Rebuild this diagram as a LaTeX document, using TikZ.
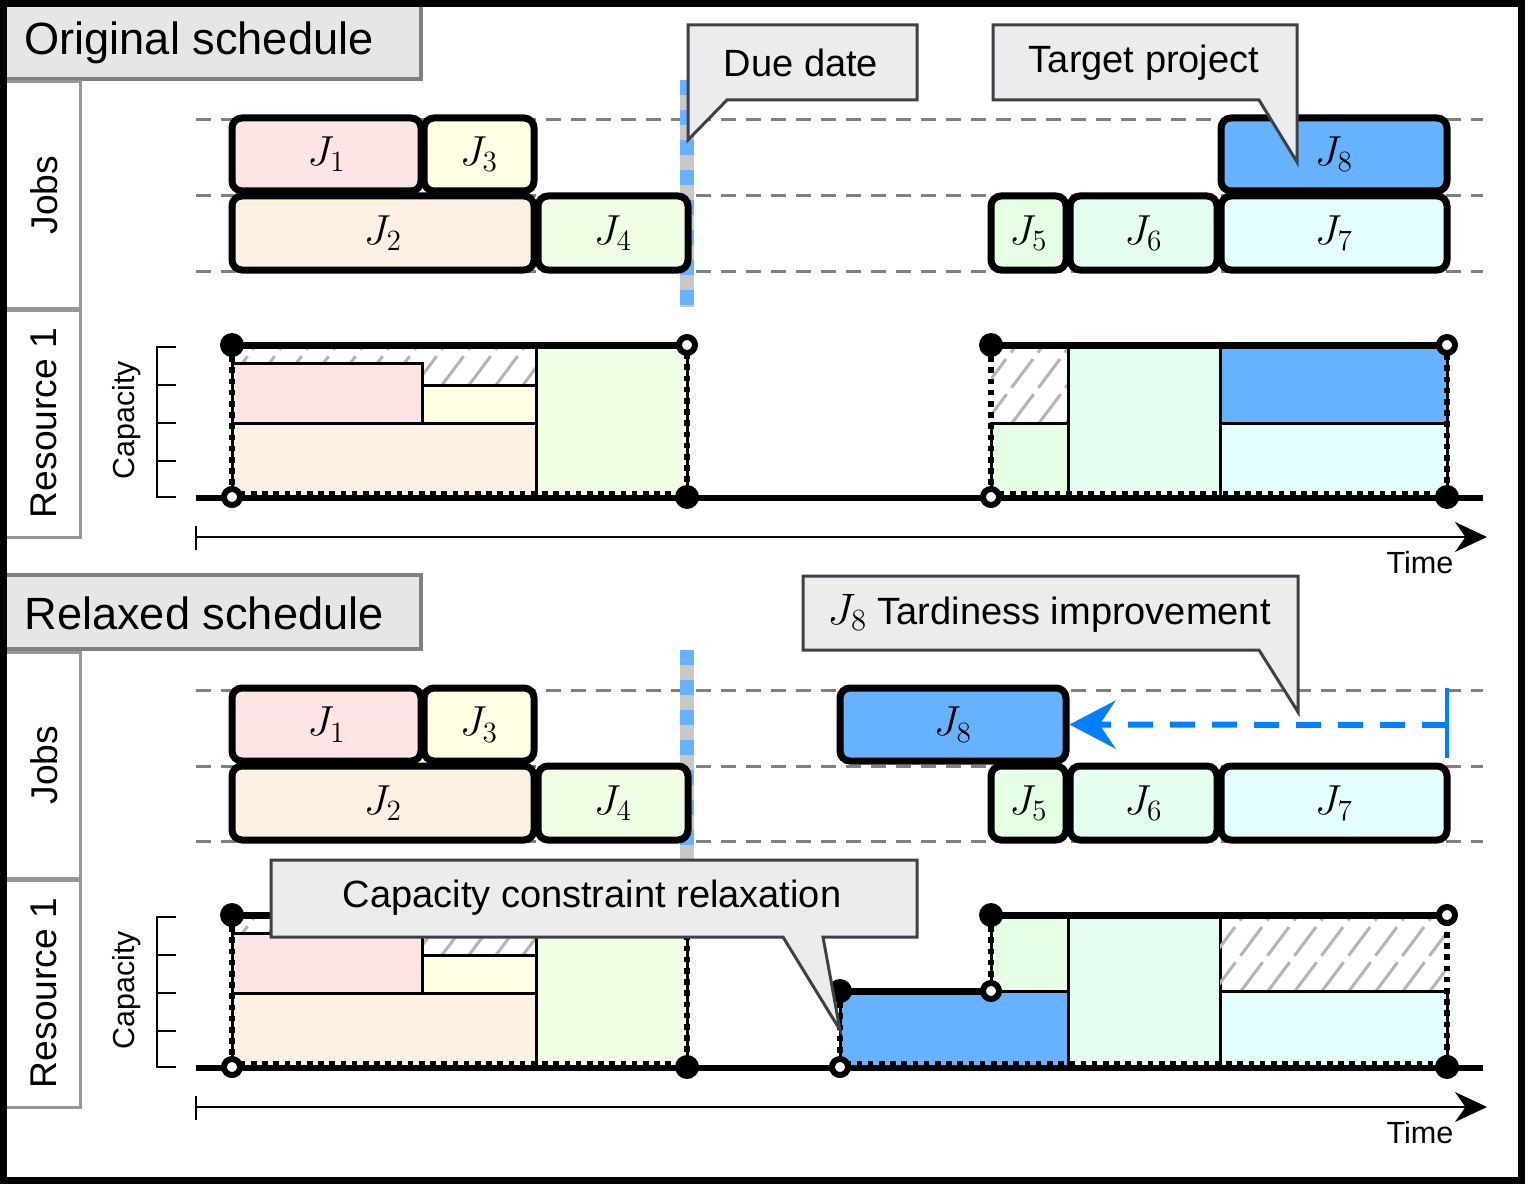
\RequirePackage{fix-cm}
\documentclass[tikz,border=0pt]{standalone}
\usepackage{fontspec}
\setmainfont{Liberation Sans}
\usetikzlibrary{arrows.meta}
\definecolor{cJ1}{RGB}{255,228,230}
\definecolor{cJ2}{RGB}{255,240,228}
\definecolor{cJ3}{RGB}{255,255,228}
\definecolor{cJ4}{RGB}{240,255,228}
\definecolor{cJ5}{RGB}{228,255,228}
\definecolor{cJ6}{RGB}{228,255,240}
\definecolor{cJ7}{RGB}{228,255,255}
\definecolor{cJ8}{RGB}{102,178,255}
\definecolor{callfill}{RGB}{236,236,236}
\definecolor{callborder}{RGB}{64,64,72}
\definecolor{headfill}{RGB}{230,230,230}
\definecolor{headborder}{RGB}{128,128,128}
\definecolor{sideborder}{RGB}{150,150,150}
\definecolor{rowgray}{RGB}{128,128,128}
\definecolor{ddgray}{RGB}{200,200,200}
\definecolor{ddblue}{RGB}{102,178,255}
\definecolor{hatchgray}{RGB}{180,180,180}
\definecolor{arrowblue}{RGB}{0,128,255}
\tikzset{
  jobbox/.style={draw=black, line width=3.5pt, rounded corners=5pt, inner sep=0pt, font=\fontsize{21}{24}\selectfont},
  rowline/.style={draw=rowgray, line width=1.5pt, dash pattern=on 7.5pt off 5pt},
  callout/.style={draw=callborder, fill=callfill, line width=1.5pt},
  calltext/.style={inner sep=0pt, font=\fontsize{19}{23}\selectfont},
  header/.style={draw=headborder, fill=headfill, line width=2pt},
  headtext/.style={inner sep=0pt, font=\fontsize{22.6}{27}\selectfont},
  sidebox/.style={draw=sideborder, line width=1.5pt},
  sidetext/.style={inner sep=0pt, font=\fontsize{18.6}{22}\selectfont},
  captext/.style={inner sep=0pt, font=\fontsize{15.2}{18}\selectfont},
  timetext/.style={inner sep=0pt, font=\fontsize{15.3}{18}\selectfont},
  seg/.style={draw=black, line width=1.5pt},
  dotline/.style={draw=black, line width=3pt, dash pattern=on 2.8pt off 2.8pt},
  capline/.style={draw=black, line width=3.5pt},
  baseline/.style={draw=black, line width=3pt},
  axisline/.style={draw=black, line width=1pt},
  hatchline/.style={draw=hatchgray, line width=1.5pt, dash pattern=on 18pt off 4pt},
  fdot/.style={circle, fill=black, inner sep=0pt, minimum size=12pt},
  odot/.style={circle, fill=white, draw=black, line width=3pt, inner sep=0pt, minimum size=8pt},
  ddbase/.style={draw=ddgray, line width=7pt},
  ddtop/.style={draw=ddblue, line width=7pt, dash pattern=on 7.5pt off 7.5pt},
}
\newcommand\jobnode[7]{\node[jobbox, fill=#6, minimum width={(#4-#2)*0.5pt}, minimum height={(#5-#3)*0.5pt}] (#1) at ({(#2+#4)/2},{(#3+#5)/2}) {#7};}
\newcommand\hatchbox[4]{\begin{scope}\clip (#1,#2) rectangle (#3,#4);
  \foreach \k in {0,...,32} {\draw[hatchline] ({#1-60+27*\k},#4) -- ++(60,-80);}
  \end{scope}}
\newcommand\panel[3]{%
\begin{scope}[shift={(0,#1)}]
  \draw[header] (5,5) rectangle (421,79);
  \node[headtext, anchor=west] (title#2) at (24,43) {#3};
  \draw[sidebox] (5,82) rectangle (80,308);
  \node[sidetext, rotate=90] (jobslab#2) at (44,195) {Jobs};
  \draw[sidebox] (5,310) rectangle (80,537);
  \node[sidetext, rotate=90] (reslab#2) at (44,423) {Resource 1};
  \foreach \yy in {120,196,271} {\draw[rowline] (196,\yy) -- (1483,\yy);}
  \draw[ddbase] (687,80) -- (687,307);
  \draw[ddtop] (687,80) -- (687,307);
  \jobnode{J1#2}{232}{118}{421}{191}{cJ1}{$J_1$}
  \jobnode{J3#2}{424}{118}{534}{191}{cJ3}{$J_3$}
  \jobnode{J2#2}{232}{196}{534}{270}{cJ2}{$J_2$}
  \jobnode{J4#2}{538}{196}{688}{270}{cJ4}{$J_4$}
  \jobnode{J5#2}{991}{196}{1066}{270}{cJ5}{$J_5$}
  \jobnode{J6#2}{1070}{196}{1217}{270}{cJ6}{$J_6$}
  \jobnode{J7#2}{1221}{196}{1447}{270}{cJ7}{$J_7$}
  \draw[axisline] (176,347) -- (157,347) -- (157,497) -- (176,497);
  \foreach \yy in {385,423,461} {\draw[axisline] (157,\yy) -- (176,\yy);}
  \node[captext, rotate=90] (caplab#2) at (127,420) {Capacity};
  \hatchbox{232}{345}{536}{385}
  \filldraw[seg, fill=cJ2] (232,423) rectangle (536,497);
  \filldraw[seg, fill=cJ1] (232,363) rectangle (422,423);
  \filldraw[seg, fill=cJ3] (422,385) rectangle (536,423);
  \filldraw[seg, fill=cJ4] (536,345) rectangle (687,497);
  \draw[dotline] (232,345) rectangle (687,494);
  \draw[capline] (232,345) -- (687,345);
  \draw[axisline, -{Stealth[length=16pt,width=15pt]}] (196,537) -- (1487,537);
  \draw[axisline] (196,526) -- (196,550);
  \node[timetext] (time#2) at (1420,563) {Time};
\end{scope}}
\begin{document}
\begin{tikzpicture}[x=0.5pt,y=-0.5pt]
\useasboundingbox (0,0) rectangle (1530,1198);
\fill[white] (0,0) rectangle (1530,1198);
% ---------- top panel ----------
\panel{0}{a}{Original schedule}
\jobnode{J8a}{1221}{118}{1447}{191}{cJ8}{$J_8$}
\hatchbox{991}{345}{1068}{423}
\filldraw[seg, fill=cJ5] (991,423) rectangle (1068,497);
\filldraw[seg, fill=cJ6] (1068,345) rectangle (1220,497);
\filldraw[seg, fill=cJ8] (1220,345) rectangle (1447,423);
\filldraw[seg, fill=cJ7] (1220,423) rectangle (1447,497);
\draw[dotline] (991,345) rectangle (1447,494);
\draw[capline] (991,345) -- (1447,345);
\draw[baseline] (196,498) -- (1483,498);
\node[fdot] (pa1) at (232,345) {};
\node[odot] (pa2) at (687,345) {};
\node[odot] (pa3) at (232,497) {};
\node[fdot] (pa4) at (687,497) {};
\node[fdot] (pa5) at (991,345) {};
\node[odot] (pa6) at (1447,345) {};
\node[odot] (pa7) at (991,497) {};
\node[fdot] (pa8) at (1447,497) {};
\draw[callout] (688,25) -- (917,25) -- (917,100) -- (727,100) -- (688,140) -- cycle;
\node[calltext] (due) at (801,63) {Due date};
\draw[callout] (993,25) -- (1297,25) -- (1297,162) -- (1259,100) -- (993,100) -- cycle;
\node[calltext] (target) at (1144,63) {Target project};
% ---------- bottom panel ----------
\panel{570}{b}{Relaxed schedule}
\jobnode{J8b}{840}{688}{1066}{761}{cJ8}{$J_8$}
\coordinate (tardend) at (1447,725);
\draw[draw=arrowblue, line width=2pt] (1447,688) -- (1447,758);
\draw[draw=arrowblue, line width=3pt, dash pattern=on 12.5pt off 8.5pt, -{Stealth[length=23pt,width=24pt,inset=8pt]}] (tardend) -- (J8b.east);
\draw[callout] (803,576) -- (1298,576) -- (1298,712) -- (1259,650) -- (803,650) -- cycle;
\node[calltext] (tard) at (1049,613) {{\fontsize{22}{26}\selectfont$J_8$} Tardiness improvement};
\filldraw[seg, fill=cJ8] (840,991) rectangle (1068,1067);
\filldraw[seg, fill=cJ5] (991,915) rectangle (1068,991);
\filldraw[seg, fill=cJ6] (1068,915) rectangle (1220,1067);
\hatchbox{1220}{915}{1447}{991}
\filldraw[seg, fill=cJ7] (1220,991) rectangle (1447,1067);
\draw[dotline] (840,991) -- (840,1064) -- (1447,1064) -- (1447,915);
\draw[dotline] (991,915) -- (991,991);
\draw[capline] (840,991) -- (991,991);
\draw[capline] (991,915) -- (1447,915);
\draw[baseline] (196,1068) -- (1483,1068);
\node[fdot] (pb1) at (232,915) {};
\node[odot] (pb2) at (687,915) {};
\node[odot] (pb3) at (232,1067) {};
\node[fdot] (pb4) at (687,1067) {};
\node[fdot] (pb5) at (840,991) {};
\node[odot] (pb6) at (991,991) {};
\node[fdot] (pb7) at (991,915) {};
\node[odot] (pb8) at (1447,915) {};
\node[odot] (pb9) at (840,1067) {};
\node[fdot] (pb10) at (1447,1067) {};
\draw[callout] (271,860) -- (917,860) -- (917,937) -- (823,937) -- (840,1030) -- (783,937) -- (271,937) -- cycle;
\node[calltext] (relax) at (592,898) {Capacity constraint relaxation};
% ---------- frame ----------
\draw[line width=3.5pt] (3.5,3.5) rectangle (1521.5,1180.5);
\end{tikzpicture}
\end{document}
